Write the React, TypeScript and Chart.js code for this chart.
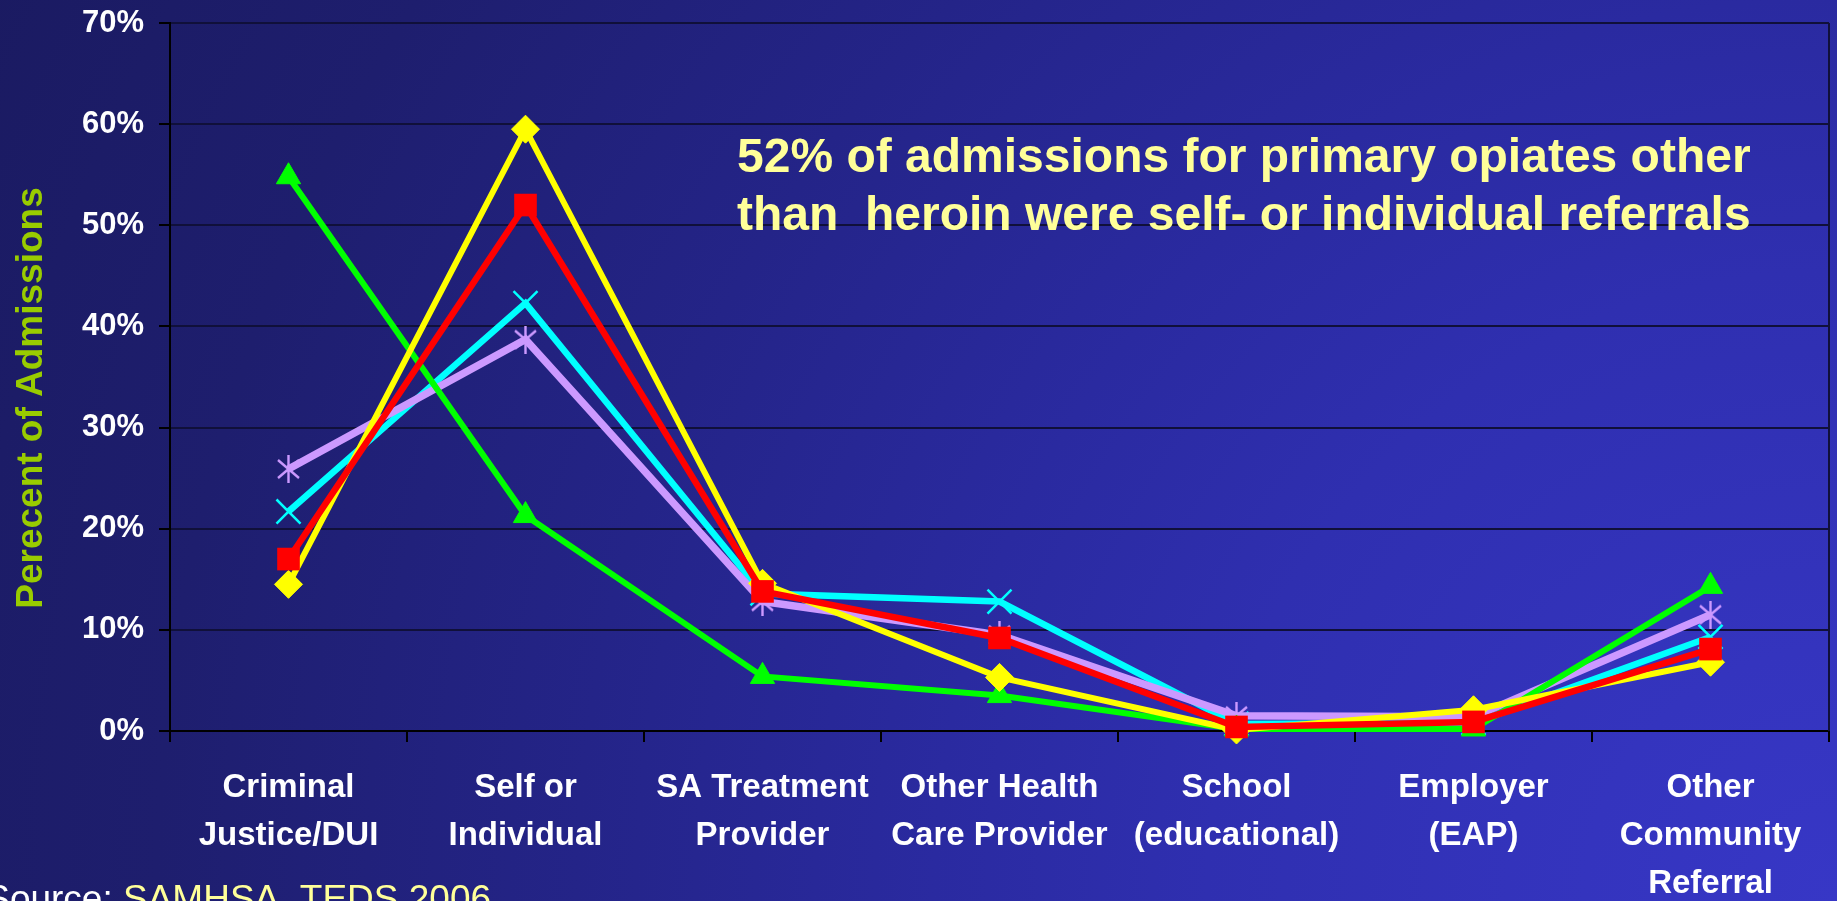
import React, { useEffect, useRef } from "react";
import { Chart, registerables } from "chart.js";

Chart.register(...registerables);

// ---- data ----
const categories: string[][] = [
  ["Criminal", "Justice/DUI"],
  ["Self or", "Individual"],
  ["SA Treatment", "Provider"],
  ["Other Health", "Care Provider"],
  ["School", "(educational)"],
  ["Employer", "(EAP)"],
  ["Other", "Community", "Referral"],
];

const yellowDiamond = [14.5, 59.5, 14.6, 5.3, 0.1, 2.1, 6.8];
const redSquare = [17.0, 52.0, 13.8, 9.2, 0.4, 0.9, 8.1];
const greenTriangle = [54.8, 21.3, 5.4, 3.5, 0.2, 0.2, 14.3];
const cyanCross = [21.7, 42.3, 13.6, 12.8, 0.7, 0.8, 9.3];
const lavenderStar = [25.9, 38.7, 12.8, 9.5, 1.5, 1.4, 11.5];

const yMin = 0;
const yMax = 70;
const yStep = 10;

const yAxisTitle = "Perecent of Admissions";
const noteLines = [
  "52% of admissions for primary opiates other",
  "than  heroin were self- or individual referrals",
];
const sourceLabel = "Source: ";
const sourceText = "SAMHSA, TEDS 2006";

const FONT = "'Liberation Sans', Arial, Helvetica, sans-serif";

function makeStar(color: string): HTMLCanvasElement {
  const w = 25;
  const h = 28;
  const c = document.createElement("canvas");
  c.width = w;
  c.height = h;
  const g = c.getContext("2d")!;
  g.strokeStyle = color;
  g.lineWidth = 2.4;
  g.beginPath();
  g.moveTo(2, 5);
  g.lineTo(w - 2, h - 5);
  g.moveTo(w - 2, 5);
  g.lineTo(2, h - 5);
  g.moveTo(w / 2, 0);
  g.lineTo(w / 2, h);
  g.stroke();
  return c;
}

const decorPlugin = {
  id: "decor",
  beforeDraw(chart: any) {
    const { ctx, width, height } = chart;
    ctx.save();
    const grad = ctx.createRadialGradient(width, height, 0, width, height, 2100);
    grad.addColorStop(0, "#3737c6");
    grad.addColorStop(0.12, "#3434be");
    grad.addColorStop(0.3, "#2f2fb0");
    grad.addColorStop(0.43, "#2a2aa0");
    grad.addColorStop(0.6, "#242488");
    grad.addColorStop(0.8, "#1e1e6e");
    grad.addColorStop(1, "#1a1a60");
    ctx.fillStyle = grad;
    ctx.fillRect(0, 0, width, height);
    ctx.restore();
  },
  afterDatasetsDraw(chart: any) {
    const { ctx, chartArea } = chart;
    ctx.save();
    ctx.strokeStyle = "#10103a";
    ctx.lineWidth = 2;
    ctx.beginPath();
    ctx.moveTo(chartArea.right, chartArea.top);
    ctx.lineTo(chartArea.right, chartArea.bottom);
    ctx.stroke();
    ctx.restore();
  },
  afterDraw(chart: any) {
    const { ctx } = chart;
    ctx.save();
    ctx.fillStyle = "#ffff99";
    ctx.font = `bold 48px ${FONT}`;
    ctx.textAlign = "left";
    ctx.textBaseline = "alphabetic";
    ctx.fillText(noteLines[0], 737, 172);
    ctx.fillText(noteLines[1], 737, 230);

    ctx.save();
    ctx.translate(42, 398);
    ctx.rotate(-Math.PI / 2);
    ctx.fillStyle = "#99cc00";
    ctx.font = `bold 37px ${FONT}`;
    ctx.textAlign = "center";
    ctx.textBaseline = "alphabetic";
    ctx.fillText(yAxisTitle, 0, 0);
    ctx.restore();

    ctx.font = `37px ${FONT}`;
    ctx.textBaseline = "alphabetic";
    ctx.textAlign = "right";
    ctx.fillStyle = "#ffffff";
    ctx.fillText(sourceLabel, 123, 911);
    ctx.textAlign = "left";
    ctx.fillStyle = "#ffff99";
    ctx.fillText(sourceText, 123, 911);
    ctx.restore();
  },
};

export default function App() {
  const ref = useRef<HTMLCanvasElement | null>(null);

  useEffect(() => {
    if (!ref.current) return;
    const star = makeStar("#cc99ff");
    const chart = new Chart(ref.current, {
      type: "line",
      data: {
        labels: categories,
        datasets: [
          {
            label: "Red",
            data: redSquare,
            borderColor: "#ff0000",
            backgroundColor: "#ff0000",
            borderWidth: 6.5,
            pointStyle: "rect",
            pointRadius: 16,
            pointBorderWidth: 0,
            pointBackgroundColor: "#ff0000",
            order: 0,
            clip: false,
          },
          {
            label: "Yellow",
            data: yellowDiamond,
            borderColor: "#ffff00",
            backgroundColor: "#ffff00",
            borderWidth: 6,
            pointStyle: "rectRot",
            pointRadius: 14,
            pointBorderWidth: 1,
            pointBackgroundColor: "#ffff00",
            order: 1,
            clip: false,
          },
          {
            label: "Green",
            data: greenTriangle,
            borderColor: "#00ff00",
            backgroundColor: "#00ff00",
            borderWidth: 6,
            pointStyle: "triangle",
            pointRadius: 14,
            pointBorderWidth: 1,
            pointBackgroundColor: "#00ff00",
            order: 2,
            clip: false,
          },
          {
            label: "Lavender",
            data: lavenderStar,
            borderColor: "#cc99ff",
            backgroundColor: "#cc99ff",
            borderWidth: 7.5,
            pointStyle: star as any,
            pointRadius: 12,
            order: 3,
            clip: false,
          },
          {
            label: "Cyan",
            data: cyanCross,
            borderColor: "#00ffff",
            backgroundColor: "#00ffff",
            borderWidth: 6.5,
            pointStyle: "crossRot",
            pointRadius: 17,
            pointBorderWidth: 2.5,
            pointBorderColor: "#00ffff",
            order: 4,
            clip: false,
          },
        ],
      },
      options: {
        animation: false,
        responsive: true,
        maintainAspectRatio: false,
        devicePixelRatio: 1,
        layout: { autoPadding: false, padding: { top: 23, right: 8, left: 0, bottom: 0 } },
        elements: { line: { tension: 0 } },
        plugins: {
          legend: { display: false },
          tooltip: { enabled: false },
          title: { display: false },
        },
        scales: {
          x: {
            type: "category",
            offset: true,
            grid: {
              offset: true,
              drawOnChartArea: false,
              drawTicks: true,
              tickLength: 11,
              color: "#000000",
              lineWidth: 2,
            },
            border: { color: "#000000", width: 2 },
            ticks: {
              color: "#ffffff",
              autoSkip: false,
              maxRotation: 0,
              minRotation: 0,
              padding: 22,
              font: { family: FONT, size: 33, weight: "bold", lineHeight: 48 / 33 },
            },
            afterFit: (s: any) => {
              s.height = 170;
              s.paddingLeft = 0;
              s.paddingRight = 0;
            },
          },
          y: {
            min: yMin,
            max: yMax,
            ticks: {
              stepSize: yStep,
              color: "#ffffff",
              padding: 15,
              font: { family: FONT, size: 31, weight: "bold" },
              callback: (v: any) => `${v}%`,
            },
            grid: {
              color: "#10103a",
              lineWidth: 2,
              drawTicks: true,
              tickLength: 11,
              tickColor: "#000000",
            },
            border: { color: "#000000", width: 2 },
            afterFit: (s: any) => {
              s.width = 170;
              s.paddingTop = 0;
              s.paddingBottom = 0;
            },
          },
        },
      },
      plugins: [decorPlugin],
    });
    return () => chart.destroy();
  }, []);

  return (
    <div style={{ position: "fixed", left: 0, top: 0, width: 1837, height: 901 }}>
      <canvas ref={ref} style={{ display: "block", width: "100%", height: "100%" }} />
    </div>
  );
}
